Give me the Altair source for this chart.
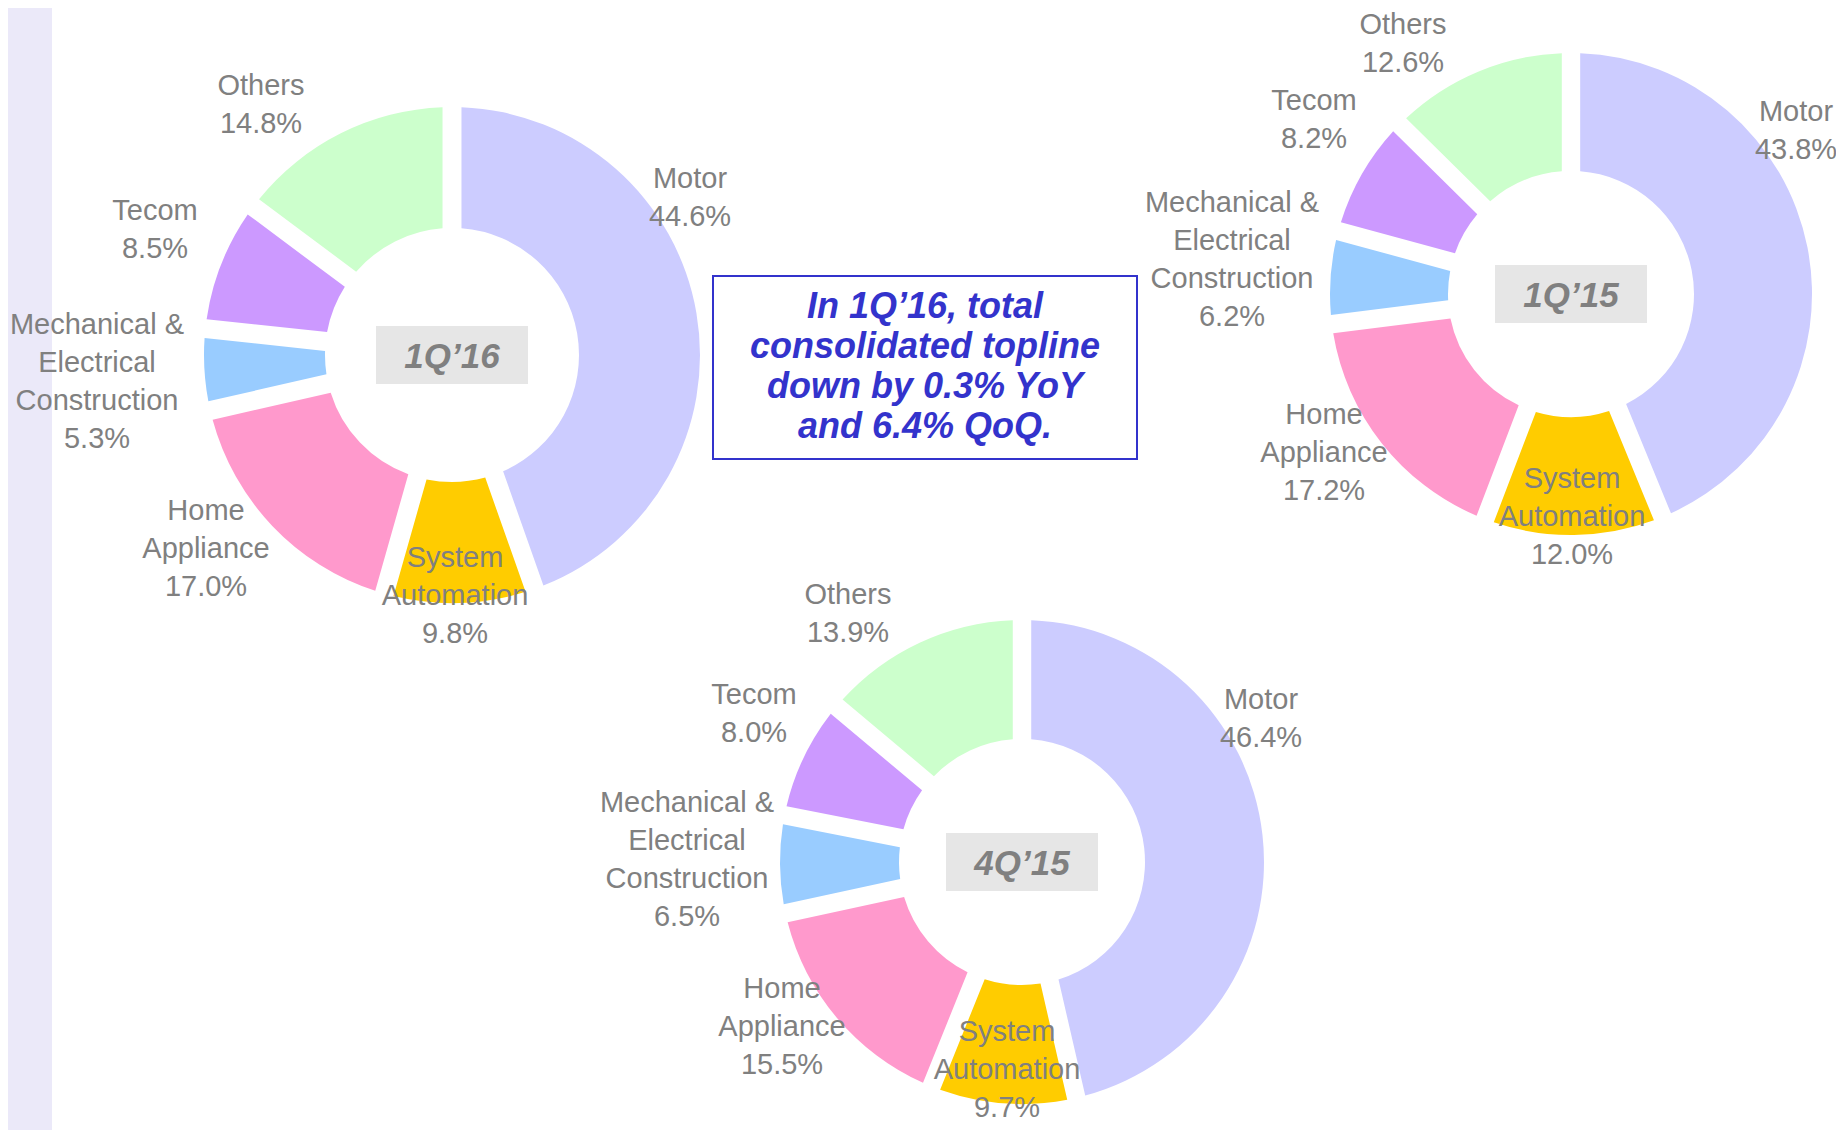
import altair as alt
import pandas as pd

# ---------------- data ----------------
categories = ["Motor", "System Automation", "Home Appliance",
              "Mechanical & Electrical Construction", "Tecom", "Others"]
category_lines = [["Motor"], ["System", "Automation"], ["Home", "Appliance"],
                  ["Mechanical &", "Electrical", "Construction"], ["Tecom"], ["Others"]]
periods = ["1Q\u201916", "1Q\u201915", "4Q\u201915"]
values_1q16 = [44.6, 9.8, 17.0, 5.3, 8.5, 14.8]
values_1q15 = [43.8, 12.0, 17.2, 6.2, 8.2, 12.6]
values_4q15 = [46.4, 9.7, 15.5, 6.5, 8.0, 13.9]
series = [values_1q16, values_1q15, values_4q15]
note_lines = ["In 1Q\u201916, total", "consolidated topline",
              "down by 0.3% YoY", "and 6.4% QoQ."]

# ---------------- style / layout ----------------
colors = ["#CCCCFF", "#FFCC00", "#FF99CC", "#99CCFF", "#CC99FF", "#CCFFCC"]
M = 8  # page margin
centres = [(452, 355), (1571, 294), (1022, 862)]
radii = [(127, 248), (123, 241), (123, 242)]
label_offsets = [
    [(238, -157), (3, 241), (-246, 194), (-355, 27), (-297, -125), (-191, -250)],
    [(225, -163), (1, 223), (-247, 159), (-339, -34), (-257, -174), (-168, -250)],
    [(239, -143), (-15, 208), (-240, 165), (-335, -2), (-268, -148), (-174, -248)],
]
GRAY = "#808080"
BLUE = "#3333CC"
FONT = "Liberation Sans"
LH = 38
NOTE_LH = 40

layers = []

layers.append(
    alt.Chart(pd.DataFrame({"a": [0]})).mark_rect(color="#EBE9F9").encode(
        x=alt.value(0), x2=alt.value(52 - M), y=alt.value(0), y2=alt.value(1138)
    )
)

color_scale = alt.Scale(domain=categories, range=colors)

for p, (period, vals) in enumerate(zip(periods, series)):
    cx, cy = centres[p]
    r0, r1 = radii[p]
    df = pd.DataFrame({"category": categories, "value": vals,
                       "idx": list(range(len(categories)))})
    layers.append(
        alt.Chart(df).mark_arc(innerRadius=r0, outerRadius=r1, padAngle=0.068).encode(
            theta=alt.Theta("value:Q", stack=True, scale=alt.Scale(domain=[0, 100])),
            color=alt.Color("category:N", scale=color_scale, legend=None),
            order=alt.Order("idx:Q"),
            x=alt.value(cx - M), y=alt.value(cy - M),
        )
    )
    texts, lx, ly = [], [], []
    for i in range(len(categories)):
        lines = category_lines[i] + [f"{vals[i]:.1f}%"]
        texts.append("\n".join(lines))
        lx.append(cx - M + label_offsets[p][i][0])
        ly.append(cy - M + label_offsets[p][i][1] - (len(lines) - 1) * LH / 2)
    ldf = pd.DataFrame({"text": texts, "px": lx, "py": ly})
    layers.append(
        alt.Chart(ldf).mark_text(lineBreak="\n", fontSize=29, font=FONT, color=GRAY,
                                 lineHeight=LH, align="center", baseline="middle").encode(
            x=alt.X("px:Q", scale=None, axis=None),
            y=alt.Y("py:Q", scale=None, axis=None),
            text="text:N",
        )
    )
    layers.append(
        alt.Chart(pd.DataFrame({"a": [0]})).mark_rect(color="#E6E6E6").encode(
            x=alt.value(cx - M - 76), x2=alt.value(cx - M + 76),
            y=alt.value(cy - M - 29), y2=alt.value(cy - M + 29),
        )
    )
    layers.append(
        alt.Chart(pd.DataFrame({"t": [period]})).mark_text(
            fontSize=35, font=FONT, fontWeight="bold", fontStyle="italic", color=GRAY,
            align="center", baseline="middle").encode(
            x=alt.value(cx - M), y=alt.value(cy - M + 2), text="t:N"
        )
    )

layers.append(
    alt.Chart(pd.DataFrame({"a": [0]})).mark_rect(fill="white", stroke=BLUE, strokeWidth=2).encode(
        x=alt.value(713 - M), x2=alt.value(1137 - M), y=alt.value(276 - M), y2=alt.value(459 - M)
    )
)
layers.append(
    alt.Chart(pd.DataFrame({"t": ["\n".join(note_lines)]})).mark_text(
        lineBreak="\n", fontSize=36, font=FONT, fontWeight="bold", fontStyle="italic",
        color=BLUE, lineHeight=NOTE_LH, align="center", baseline="middle").encode(
        x=alt.value(925 - M), y=alt.value(367 - M - 1.5 * NOTE_LH), text="t:N"
    )
)

chart = alt.layer(*layers).properties(
    width=1828, height=1122, autosize="none", padding=0
).configure_view(stroke=None)

chart.save("out.html", embed_options={"renderer": "svg", "actions": False})
